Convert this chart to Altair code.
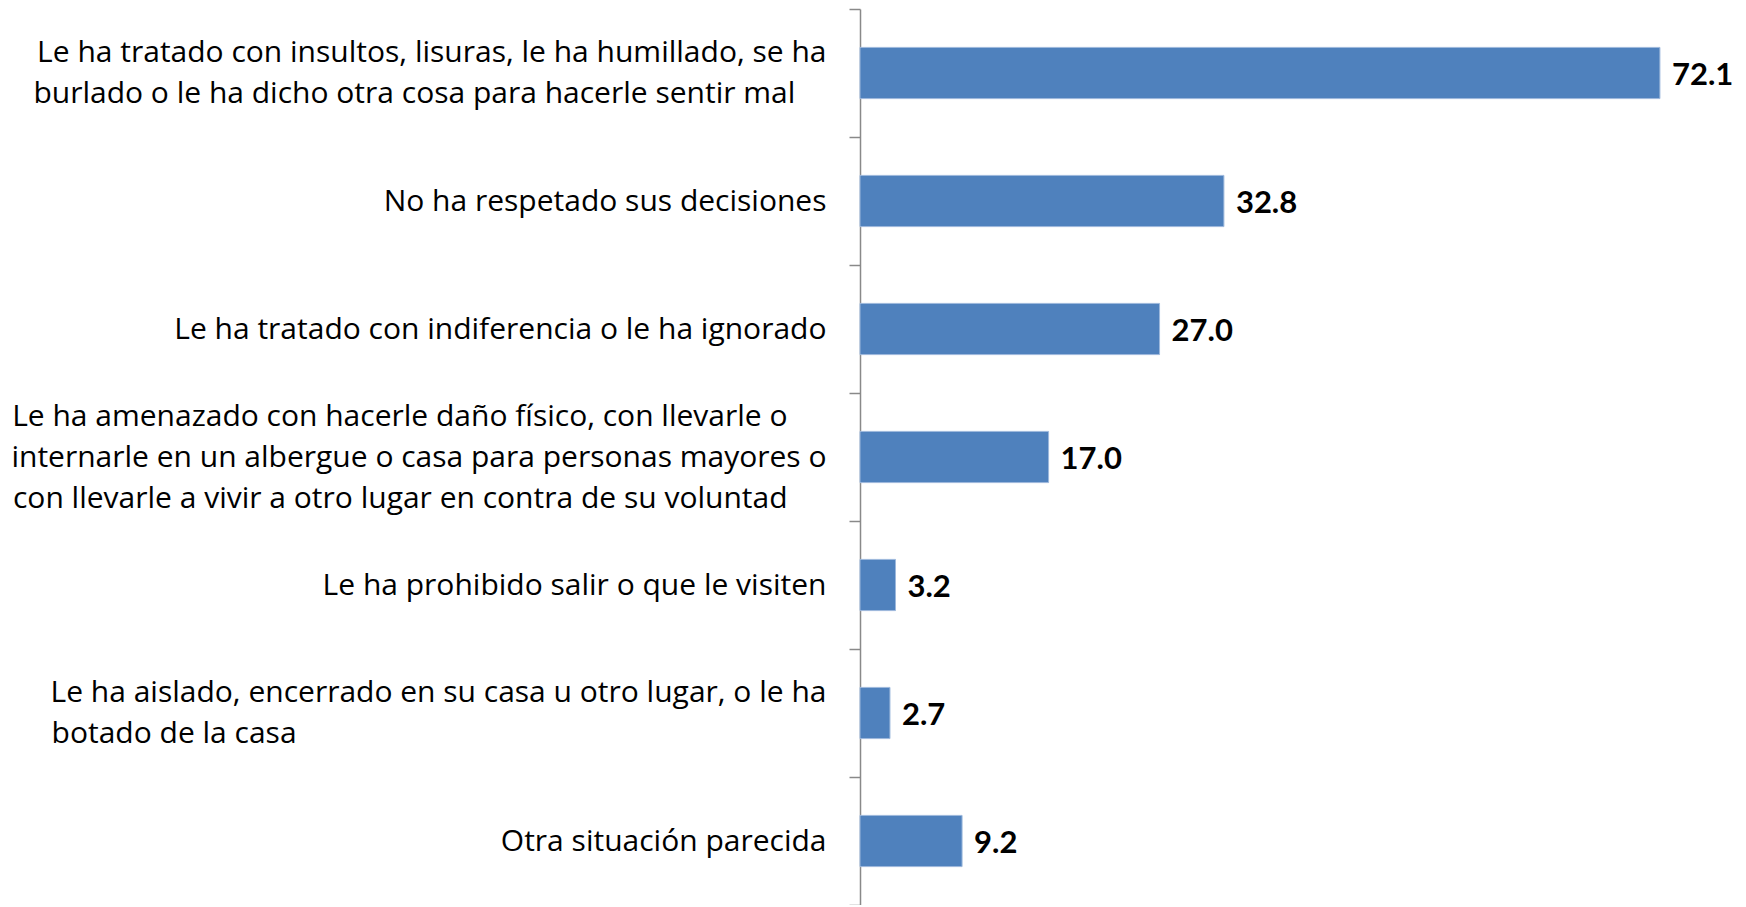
import altair as alt
import pandas as pd

# Category labels, one list of lines per category
category_lines = [
    ["Le ha tratado con insultos, lisuras, le ha humillado, se ha",
     "burlado o le ha dicho otra cosa para hacerle sentir mal"],
    ["No ha respetado sus decisiones"],
    ["Le ha tratado con indiferencia o le ha ignorado"],
    ["Le ha amenazado con hacerle daño físico, con llevarle o",
     "internarle en un albergue o casa para personas mayores o",
     "con llevarle a vivir a otro lugar en contra de su voluntad"],
    ["Le ha prohibido salir o que le visiten"],
    ["Le ha aislado, encerrado en su casa u otro lugar, o le ha",
     "botado de la casa"],
    ["Otra situación parecida"],
]
values = [72.1, 32.8, 27.0, 17.0, 3.2, 2.7, 9.2]

# trailing non-breaking spaces (closed by a zero-width space so they are not
# trimmed) so that the lines of a block line up on the left
line_pads = [[0, 4], [0], [0], [5, 0, 5], [0], [0, 68], [0]]

def pad(line, n):
    return line + ("\u00a0" * n + "\u200b" if n else "")

categories = [
    "|".join(pad(line, p) for line, p in zip(lines, pads))
    for lines, pads in zip(category_lines, line_pads)
]

df = pd.DataFrame({"cat": categories, "val": values})

FONT = "Open Sans"
nlines = "length(split(datum.label, '|'))"

base = alt.Chart(df).encode(
    y=alt.Y(
        "cat:N",
        sort=None,
        scale=alt.Scale(paddingInner=0, paddingOuter=0),
        axis=alt.Axis(
            title=None,
            labelExpr="split(datum.label, '|')",
            labelFont=FONT,
            labelFontSize=30,
            labelColor="#000000",
            labelLineHeight=41,
            labelPadding=23,
            labelLimit=1000,
            labelOffset={
                "condition": [
                    {"test": nlines + " == 3", "value": -41},
                    {"test": nlines + " == 2", "value": -20.5},
                ],
                "value": 0,
            },
            tickBand="extent",
            tickSize=11,
            tickColor="#898989",
            domainColor="#898989",
            domainWidth=1.5,
            tickWidth=1.5,
        ),
    ),
    x=alt.X("val:Q", scale=alt.Scale(domain=[0, 74]), axis=None),
)

bars = base.mark_bar(color="#4F81BD", stroke="#9DB8DC", strokeWidth=1, height={"band": 0.4})
labels = base.mark_text(
    align="left", baseline="middle", dx=12, dy=3,
    font="Lato", fontSize=31, fontWeight="bold", color="#000000",
).encode(text=alt.Text("val:Q", format=".1f"))

chart = (
    alt.layer(bars, labels)
    .properties(
        width=821, height=896,
        autosize=alt.AutoSizeParams(type="none"),
        padding={"top": 1, "left": 852, "right": 55, "bottom": 0},
    )
    .configure_view(stroke=None)
)

chart.save("out.html", embed_options={"renderer": "svg", "actions": False})
